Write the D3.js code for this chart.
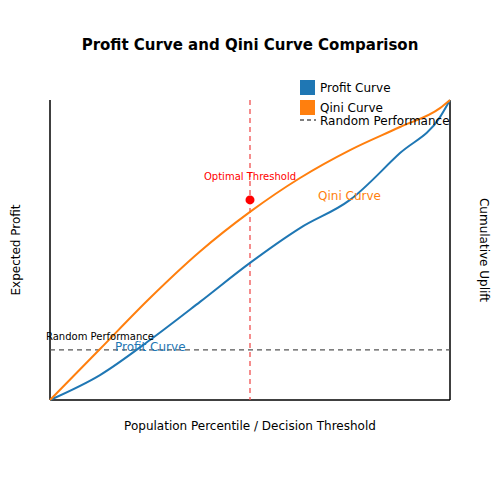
<!DOCTYPE html><html><head><script src="https://cdn.jsdelivr.net/npm/d3@7"></script>
<style>body{margin:0;background:#fff}text{font-family:"DejaVu Sans",sans-serif}</style></head><body><script>
const profitX=[0,.125,.25,.375,.5,.625,.75,.875,.975,1];
const profitY=[0,.083,.2,.327,.457,.573,.667,.823,.943,1];
const qiniX=[0,.125,.25,.375,.5,.625,.75,.875,.975,1];
const qiniY=[0,.17,.34,.495,.627,.74,.833,.91,.973,1];
const randomY=0.167;
const optimal={x:0.5,y:0.667};
const svg=d3.select("body").append("svg").attr("width",500).attr("height",500);
const x=d3.scaleLinear().domain([0,1]).range([50,450]);
const y=d3.scaleLinear().domain([0,1]).range([400,100]);
const line=d3.line().x(d=>x(d[0])).y(d=>y(d[1])).curve(d3.curveMonotoneX);
svg.append("line").attr("x1",50).attr("x2",50).attr("y1",100).attr("y2",400).attr("stroke","#000").attr("stroke-width",1.5);
svg.append("line").attr("x1",450).attr("x2",450).attr("y1",100).attr("y2",400).attr("stroke","#000").attr("stroke-width",1.5);
svg.append("line").attr("x1",50).attr("x2",450).attr("y1",400).attr("y2",400).attr("stroke","#000").attr("stroke-width",1.5);
svg.append("line").attr("x1",x(0)).attr("x2",x(1)).attr("y1",y(randomY)).attr("y2",y(randomY)).attr("stroke","#555").attr("stroke-width",1.3).attr("stroke-dasharray","5,4");
svg.append("line").attr("x1",x(optimal.x)).attr("x2",x(optimal.x)).attr("y1",100).attr("y2",400).attr("stroke","#f05050").attr("stroke-width",1.3).attr("stroke-dasharray","5,4");
svg.append("path").attr("d",line(profitX.map((v,i)=>[v,profitY[i]]))).attr("fill","none").attr("stroke","#1f77b4").attr("stroke-width",2);
svg.append("path").attr("d",line(qiniX.map((v,i)=>[v,qiniY[i]]))).attr("fill","none").attr("stroke","#ff7f0e").attr("stroke-width",2);
svg.append("circle").attr("cx",x(optimal.x)).attr("cy",y(optimal.y)).attr("r",4.5).attr("fill","red");
const t=(tx,ty,s,o={})=>svg.append("text").attr("x",tx).attr("y",ty).text(s).attr("font-size",o.fs||12).attr("fill",o.c||"#000").attr("text-anchor",o.a||"start").attr("font-weight",o.w||"normal").attr("transform",o.r?`rotate(${o.r},${tx},${ty})`:null);
t(250,50,"Profit Curve and Qini Curve Comparison",{fs:15,w:"bold",a:"middle"});
t(250,430,"Population Percentile / Decision Threshold",{a:"middle"});
t(20,250,"Expected Profit",{a:"middle",r:-90});
t(480,250,"Cumulative Uplift",{a:"middle",r:90});
t(46,340,"Random Performance",{fs:10});
t(115,351,"Profit Curve",{c:"#1f77b4"});
t(318,200,"Qini Curve",{c:"#ff7f0e"});
t(250,180,"Optimal Threshold",{fs:10,c:"red",a:"middle"});
svg.append("rect").attr("x",300).attr("y",80).attr("width",15).attr("height",15).attr("fill","#1f77b4");
svg.append("rect").attr("x",300).attr("y",100).attr("width",15).attr("height",15).attr("fill","#ff7f0e");
svg.append("line").attr("x1",300).attr("x2",316).attr("y1",120).attr("y2",120).attr("stroke","#555").attr("stroke-width",1.3).attr("stroke-dasharray","4,3");
t(320,92,"Profit Curve");t(320,112,"Qini Curve");t(320,125,"Random Performance");
</script></body></html>
